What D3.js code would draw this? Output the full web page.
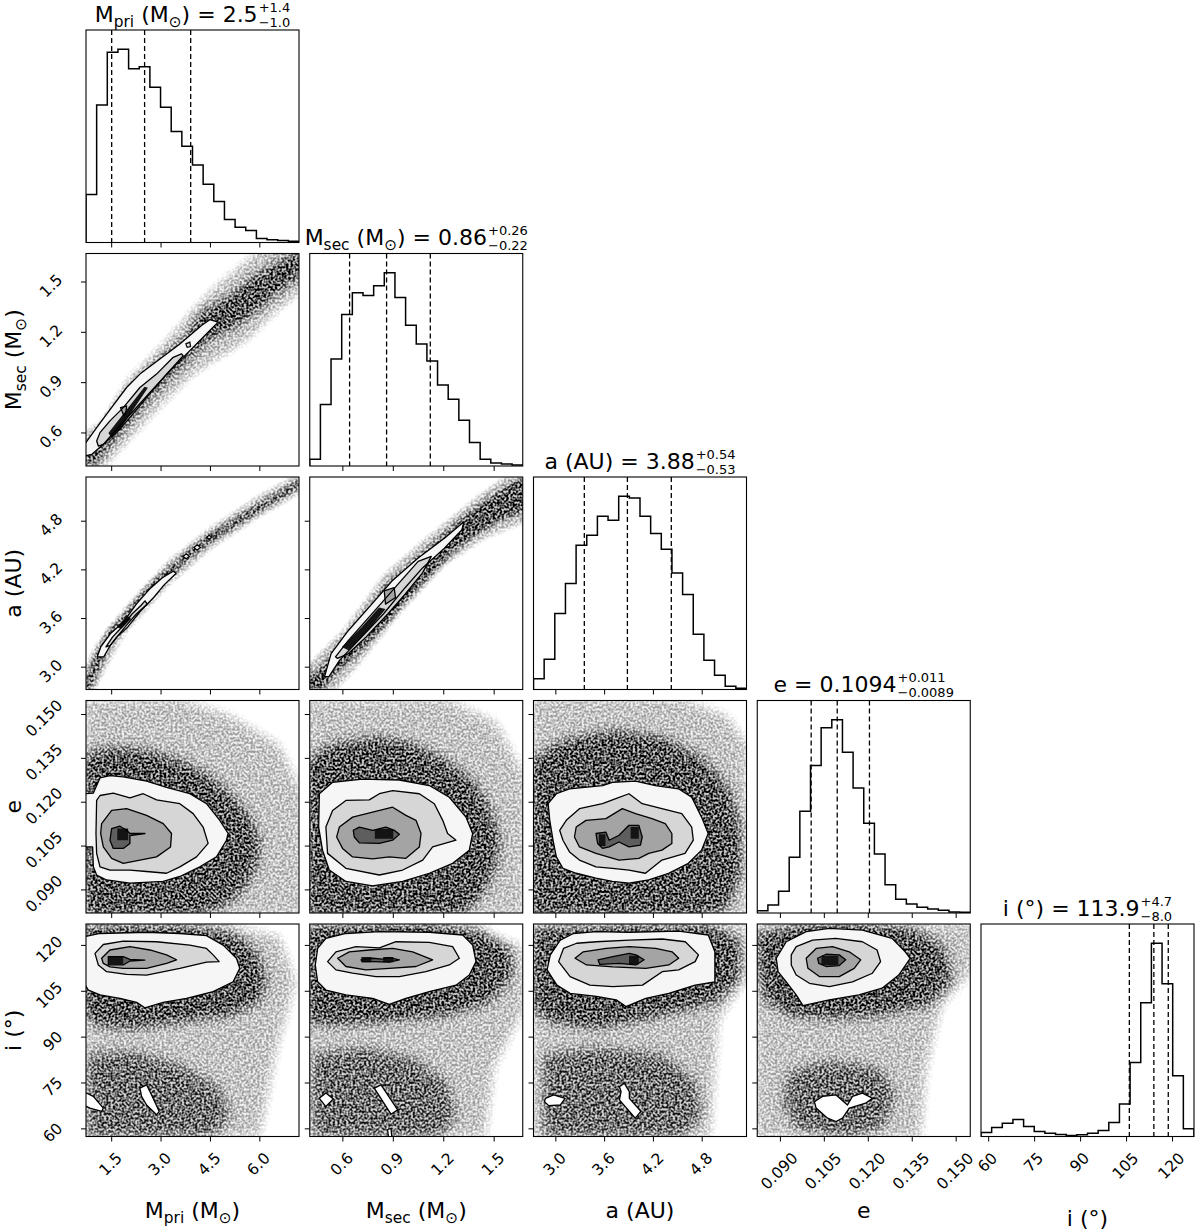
<!DOCTYPE html>
<html><head><meta charset="utf-8">
<script src="https://cdn.jsdelivr.net/npm/d3@7"></script>
<style>
body{margin:0;background:#fff}
svg{display:block}
text{font-family:"DejaVu Sans",sans-serif;fill:#000;white-space:pre}
</style>
</head><body>
<svg id="chart" width="1200" height="1232"></svg>
<script>
// ---------------- DATA ----------------
const domMpri = [0.72, 7.19];
const domMsec = [0.403, 1.670];
const domA    = [2.725, 5.345];
const domE    = [0.0821, 0.1548];
const domI    = [57.5, 127.0];

const ticksMpri = [1.5, 3.0, 4.5, 6.0];
const ticksMsec = [0.6, 0.9, 1.2, 1.5];
const ticksA    = [3.0, 3.6, 4.2, 4.8];
const ticksE    = [0.090, 0.105, 0.120, 0.135, 0.150];
const ticksI    = [60, 75, 90, 105, 120];

const tickLabelsMpri = ["1.5","3.0","4.5","6.0"];
const tickLabelsMsec = ["0.6","0.9","1.2","1.5"];
const tickLabelsA    = ["3.0","3.6","4.2","4.8"];
const tickLabelsE    = ["0.090","0.105","0.120","0.135","0.150"];
const tickLabelsI    = ["60","75","90","105","120"];

// 20-bin histogram counts (relative)
const histMpri = [144,413,571,580,522,528,466,406,333,289,233,175,123,69,46,36,12,8,6,4];
const histMsec = [20,184,320,453,518,510,539,578,504,421,365,314,242,200,137,70,20,9,6,3];
const histA    = [32,91,228,318,433,463,520,508,580,575,520,468,421,350,285,166,88,43,10,4];
const histE    = [7,24,65,167,305,442,555,579,482,375,269,177,85,41,27,17,12,8,3,2];
const histI    = [12,27,40,51,30,15,10,6,3,5,10,18,42,98,223,403,582,460,183,23];

// summary values (median, +, -)
const medVals   = [2.5, 0.86, 3.88, 0.1094, 113.9];
const plusVals  = [1.4, 0.26, 0.54, 0.011, 4.7];
const minusVals = [1.0, 0.22, 0.53, 0.0089, 8.0];
const medLabels   = ["2.5","0.86","3.88","0.1094","113.9"];
const plusLabels  = ["+1.4","+0.26","+0.54","+0.011","+4.7"];
const minusLabels = ["\u22121.0","\u22120.22","\u22120.53","\u22120.0089","\u22128.0"];

// axis labels (text, kind)
const labelMpri = [["M",""],["pri","sub"],[" (M",""],["\u2299","sub"],[")",""]];
const labelMsec = [["M",""],["sec","sub"],[" (M",""],["\u2299","sub"],[")",""]];
const labelA    = [["a (AU)",""]];
const labelE    = [["e",""]];
const labelI    = [["i (\u00b0)",""]];

// 2D panels: scatter envelopes and contour polygons (data units)
const P10 = {
  halo: [[0.64,0.60],[1.3,0.66],[2.0,0.92],[3.0,1.12],[3.8,1.30],[4.5,1.45],[5.4,1.60],[6.2,1.72],[7.3,1.72],[7.3,1.45],[6.5,1.32],[5.6,1.15],[4.8,1.05],[4.0,0.95],[3.0,0.76],[2.0,0.55],[1.3,0.40],[0.64,0.40]],
  dense: [[0.64,0.452],[0.942,0.572],[1.448,0.712],[2.054,0.871],[2.560,0.971],[3.167,1.071],[3.773,1.171],[4.178,1.311],[4.683,1.371],[5.189,1.430],[5.795,1.530],[6.503,1.610],[7.3,1.70],[7.3,1.550],[6.503,1.430],[5.896,1.331],[5.391,1.251],[4.986,1.211],[4.582,1.171],[4.077,1.091],[3.369,0.951],[2.661,0.811],[2.054,0.672],[1.549,0.552],[1.145,0.452],[0.942,0.40],[0.64,0.40]],
  L: [
    [[0.64,0.522],[1.044,0.632],[1.347,0.712],[1.953,0.871],[2.358,0.951],[2.964,1.041],[3.571,1.131],[4.228,1.241],[4.481,1.275],[4.734,1.261],[4.481,1.211],[3.874,1.091],[3.268,0.971],[2.661,0.841],[2.156,0.731],[1.650,0.622],[1.246,0.532],[0.892,0.472],[0.64,0.462]],
    [[1.044,0.552],[1.145,0.602],[1.448,0.672],[1.852,0.751],[2.358,0.871],[2.863,0.951],[3.369,1.051],[3.622,1.071],[3.672,1.061],[3.167,0.951],[2.560,0.811],[2.054,0.692],[1.650,0.602],[1.246,0.532],[1.094,0.522]],
    [[1.771,0.751],[1.953,0.761],[1.933,0.721],[1.873,0.701]]
  ],
  core: [[[1.40,0.60],[1.62,0.655],[2.50,0.875],[2.60,0.87],[1.75,0.62],[1.50,0.57]]],
  rings: [[[3.753,1.131],[3.874,1.141],[3.894,1.115],[3.793,1.111]]]
};
const P20 = {
  halo: [[0.66,2.95],[1.0,3.25],[1.9,3.72],[3.2,4.30],[4.5,4.72],[6.0,5.12],[7.25,5.40],[7.25,5.15],[6.0,4.86],[4.5,4.46],[3.2,4.0],[1.9,3.42],[1.2,2.9],[0.95,2.70],[0.66,2.70]],
  dense: [[0.667,2.803],[0.997,3.128],[1.392,3.453],[1.853,3.635],[2.512,3.960],[3.171,4.204],[3.962,4.476],[4.489,4.638],[5.280,4.841],[6.071,5.036],[7.25,5.32],[7.25,5.239],[6.071,4.947],[5.280,4.744],[4.489,4.541],[3.962,4.378],[3.171,4.094],[2.512,3.838],[1.853,3.514],[1.458,3.331],[1.129,3.006],[0.865,2.73],[0.667,2.73]],
  L: [
    [[1.063,3.128],[1.168,3.250],[1.458,3.412],[1.853,3.554],[2.249,3.777],[2.644,3.960],[3.040,4.102],[3.369,4.183],[3.461,4.159],[3.106,4.021],[2.776,3.859],[2.381,3.696],[1.985,3.493],[1.656,3.371],[1.458,3.270],[1.260,3.128]],
    [[1.326,3.250],[1.524,3.371],[1.853,3.514],[2.117,3.656],[2.381,3.757],[2.512,3.818],[2.578,3.777],[2.249,3.656],[1.985,3.534],[1.656,3.371],[1.458,3.270]]
  ],
  core: [[[1.656,3.493],[1.985,3.635],[2.091,3.595],[1.787,3.473]]],
  rings: [
    [[3.672,4.366],[3.764,4.398],[3.856,4.366],[3.764,4.337]],
    [[4.0,4.476],[4.094,4.508],[4.199,4.476],[4.094,4.443]],
    [[4.384,4.602],[4.463,4.626],[4.542,4.602],[4.463,4.577]]
  ]
};
const P21 = {
  halo: [[0.38,3.0],[0.6,3.45],[0.85,4.15],[1.1,4.6],[1.4,5.1],[1.6,5.4],[1.70,5.4],[1.70,4.8],[1.45,4.6],[1.2,4.25],[0.95,3.7],[0.7,3.05],[0.55,2.70],[0.38,2.70]],
  dense: [[0.38,2.844],[0.478,3.006],[0.581,3.290],[0.711,3.574],[0.841,3.980],[0.996,4.265],[1.152,4.549],[1.307,4.833],[1.463,5.077],[1.618,5.28],[1.70,5.33],[1.70,4.955],[1.515,4.792],[1.359,4.589],[1.255,4.427],[1.126,4.143],[0.996,3.859],[0.841,3.493],[0.685,3.168],[0.556,2.925],[0.478,2.73],[0.38,2.73]],
  L: [
    [[0.491,2.884],[0.530,3.168],[0.633,3.453],[0.789,3.818],[0.892,4.062],[1.048,4.346],[1.204,4.589],[1.320,4.792],[1.307,4.691],[1.204,4.468],[1.074,4.224],[0.970,3.980],[0.841,3.656],[0.711,3.371],[0.581,3.087],[0.517,2.884]],
    [[0.556,3.128],[0.633,3.331],[0.737,3.574],[0.841,3.818],[0.944,4.062],[1.048,4.305],[1.126,4.366],[1.074,4.163],[0.970,3.899],[0.867,3.656],[0.737,3.371],[0.633,3.168],[0.568,3.108]],
    [[0.846,3.940],[0.905,3.980],[0.913,3.859],[0.854,3.778]]
  ],
  core: [[[0.594,3.250],[0.711,3.493],[0.815,3.737],[0.854,3.717],[0.750,3.453],[0.633,3.209]]]
};
const P30 = {
  halo: [[0.64,0.1555],[3.571,0.1555],[5.087,0.1500],[6.60,0.1398],[7.31,0.1229],[7.31,0.081],[0.64,0.081]],
  dense: [[0.64,0.1364],[1.549,0.1387],[2.560,0.1376],[3.571,0.1342],[4.380,0.1296],[5.087,0.1229],[5.694,0.1149],[5.997,0.1070],[5.896,0.0979],[5.492,0.0900],[4.885,0.0844],[4.077,0.081],[0.64,0.081]],
  L: [
    [[0.64,0.1229],[0.94,0.1231],[1.145,0.1283],[1.448,0.1291],[1.852,0.1287],[2.560,0.1272],[3.167,0.1251],[3.874,0.1229],[4.380,0.1195],[4.784,0.1138],[5.037,0.1093],[4.986,0.1070],[4.683,0.1013],[4.178,0.0979],[3.571,0.0946],[3.066,0.0929],[2.054,0.0923],[1.347,0.0934],[1.043,0.0951],[0.942,0.0979],[0.922,0.1047],[0.64,0.1047]],
    [[1.043,0.1206],[1.145,0.1223],[1.549,0.1231],[2.054,0.1215],[2.459,0.1229],[2.863,0.1208],[3.571,0.1195],[3.975,0.1161],[4.278,0.1115],[4.430,0.1059],[4.077,0.1013],[3.571,0.0979],[3.167,0.0957],[2.560,0.0963],[2.054,0.0968],[1.448,0.0968],[1.145,0.0979],[1.043,0.1025],[1.023,0.1093]],
    [[1.195,0.1127],[1.498,0.1172],[1.953,0.1178],[2.560,0.1155],[3.066,0.1127],[3.318,0.1093],[3.288,0.1047],[2.863,0.1013],[2.358,0.1002],[1.852,0.0991],[1.498,0.1008],[1.246,0.1047],[1.165,0.1093]],
    [[1.498,0.1110],[1.751,0.1118],[1.953,0.1104],[2.054,0.1093],[2.509,0.1093],[2.054,0.1086],[2.054,0.1059],[1.852,0.1042],[1.549,0.1042],[1.448,0.1070]]
  ],
  core: [[[1.67,0.1070],[2.0,0.1070],[2.0,0.1110],[1.67,0.1110]]]
};
const P31 = {
  halo: [[0.38,0.1555],[1.213,0.1555],[1.511,0.1478],[1.69,0.1285],[1.69,0.081],[0.38,0.081]],
  dense: [[0.38,0.1342],[0.539,0.1398],[0.817,0.1421],[1.015,0.1398],[1.213,0.1342],[1.372,0.1274],[1.471,0.1183],[1.531,0.1081],[1.511,0.0979],[1.432,0.0889],[1.313,0.081],[0.38,0.081]],
  L: [
    [[0.46,0.1229],[0.539,0.1268],[0.717,0.1279],[0.936,0.1276],[1.114,0.1257],[1.233,0.1217],[1.332,0.1149],[1.372,0.1093],[1.352,0.1036],[1.253,0.0991],[1.114,0.0957],[0.956,0.0929],[0.777,0.0914],[0.618,0.0929],[0.519,0.0968],[0.479,0.1036],[0.456,0.1115]],
    [[0.539,0.1172],[0.618,0.1206],[0.757,0.1208],[0.817,0.1229],[0.896,0.1240],[1.055,0.1229],[1.144,0.1195],[1.194,0.1138],[1.223,0.1093],[1.273,0.1070],[1.134,0.1047],[1.075,0.1002],[0.956,0.0968],[0.817,0.0951],[0.618,0.0974],[0.509,0.1025],[0.499,0.1115]],
    [[0.579,0.1115],[0.658,0.1149],[0.777,0.1166],[0.896,0.1183],[0.975,0.1155],[1.035,0.1138],[1.065,0.1093],[1.055,0.1047],[0.975,0.1008],[0.876,0.1013],[0.777,0.1006],[0.658,0.1013],[0.598,0.1042],[0.563,0.1081]],
    [[0.662,0.1104],[0.698,0.1115],[0.777,0.1104],[0.856,0.1115],[0.906,0.1104],[0.936,0.1090],[0.896,0.1070],[0.817,0.1059],[0.698,0.1061],[0.668,0.1081]]
  ],
  core: [[[0.79,0.1075],[0.90,0.1075],[0.90,0.1108],[0.79,0.1108]]]
};
const P32 = {
  halo: [[2.68,0.156],[4.5,0.156],[5.1,0.150],[5.36,0.140],[5.36,0.081],[2.68,0.081]],
  dense: [[2.68,0.1342],[3.087,0.1410],[3.696,0.1444],[4.305,0.1421],[4.792,0.1353],[5.117,0.1251],[5.28,0.1115],[5.28,0.0957],[5.117,0.0844],[4.914,0.081],[2.68,0.081]],
  L: [
    [[2.905,0.1195],[3.006,0.1229],[3.168,0.1246],[3.574,0.1257],[3.696,0.1268],[3.980,0.1272],[4.224,0.1257],[4.508,0.1246],[4.671,0.1217],[4.792,0.1149],[4.874,0.1093],[4.792,0.1036],[4.630,0.0991],[4.386,0.0957],[4.143,0.0934],[3.899,0.0923],[3.696,0.0929],[3.493,0.0940],[3.250,0.0957],[3.087,0.0974],[3.006,0.1013],[2.965,0.1070],[2.925,0.1138]],
    [[3.047,0.1104],[3.128,0.1138],[3.290,0.1178],[3.574,0.1195],[3.737,0.1212],[3.899,0.1229],[4.062,0.1195],[4.305,0.1178],[4.549,0.1161],[4.671,0.1115],[4.691,0.1070],[4.589,0.1025],[4.305,0.1002],[4.102,0.0957],[3.899,0.0968],[3.696,0.0974],[3.493,0.0979],[3.290,0.1002],[3.168,0.1030],[3.087,0.1070]],
    [[3.250,0.1115],[3.371,0.1138],[3.615,0.1144],[3.818,0.1178],[3.980,0.1161],[4.183,0.1144],[4.346,0.1127],[4.427,0.1093],[4.427,0.1059],[4.305,0.1036],[4.143,0.1025],[4.021,0.1008],[3.777,0.1002],[3.493,0.1025],[3.290,0.1047],[3.229,0.1081]],
    [[3.493,0.1093],[3.615,0.1098],[3.656,0.1070],[3.777,0.1087],[3.899,0.1121],[4.021,0.1121],[4.062,0.1081],[4.041,0.1053],[3.899,0.1047],[3.777,0.1064],[3.656,0.1047],[3.574,0.1042],[3.514,0.1059]]
  ],
  core: [[[3.53,0.1050],[3.61,0.1050],[3.61,0.1090],[3.53,0.1090]],[[3.92,0.1075],[4.02,0.1075],[4.02,0.1115],[3.92,0.1115]]]
};
const P40 = {
  halo: [[0.64,127.5],[4.582,127.5],[6.60,123.2],[7.11,108.1],[6.5,85],[6.0,57],[0.64,57]],
  dense: [[0.64,126.6],[3.571,126.6],[5.087,124.5],[5.795,119.0],[6.199,110.3],[5.997,101.6],[5.087,97.2],[3.571,95.1],[2.054,92.9],[1.043,94.0],[0.64,97.2]],
  lower: [[0.74,84.2],[2.054,85.3],[3.571,80.9],[4.784,73.3],[5.087,64.6],[4.582,57.0],[0.74,57.0]],
  L: [
    [[0.64,122.8],[1.145,123.9],[2.560,124.3],[3.571,123.9],[4.380,123.2],[4.885,120.1],[5.290,115.8],[5.391,112.5],[5.189,108.1],[4.582,104.9],[3.773,102.7],[3.066,101.4],[2.509,99.6],[2.257,101.4],[1.751,102.7],[1.145,103.8],[0.79,105.4],[0.64,108.1]],
    [[0.993,117.4],[1.246,120.3],[1.852,121.4],[2.863,121.2],[3.874,120.1],[4.380,119.0],[4.582,116.9],[4.764,114.7],[4.380,114.5],[3.571,112.5],[2.560,110.3],[1.953,110.5],[1.347,111.4],[1.094,113.6]],
    [[1.195,115.8],[1.448,118.5],[2.054,119.6],[2.661,118.5],[3.167,116.9],[3.470,115.3],[3.167,114.1],[2.560,112.5],[1.852,112.5],[1.448,113.0],[1.246,114.1]],
    [[1.397,116.3],[1.852,116.3],[2.054,115.4],[2.509,115.2],[2.054,114.9],[1.852,113.6],[1.397,113.6]]
  ],
  core: [[[1.40,113.8],[1.85,113.8],[1.85,116.2],[1.40,116.2]]],
  holes: [
    [[0.64,72.2],[0.94,70.6],[1.246,66.8],[1.195,65.7],[0.84,66.8],[0.64,67.8]],
    [[2.358,73.3],[2.560,74.4],[2.712,71.1],[2.944,65.7],[2.863,64.6],[2.560,67.8],[2.408,70.6]]
  ]
};
const P41 = {
  halo: [[0.38,127.5],[1.2,127.5],[1.67,120],[1.69,100],[1.5,80],[1.45,57],[0.38,57]],
  dense: [[0.38,126.6],[1.015,127.1],[1.412,125.6],[1.590,119.0],[1.610,110.3],[1.471,101.6],[1.213,97.2],[0.817,95.1],[0.519,94.0],[0.38,95.1]],
  lower: [[0.42,84.2],[0.717,86.4],[1.015,83.1],[1.213,75.5],[1.273,64.6],[1.174,57.0],[0.42,57.0]],
  L: [
    [[0.450,119.0],[0.499,122.3],[0.618,123.9],[0.817,124.5],[1.114,124.3],[1.313,123.4],[1.372,120.1],[1.392,114.7],[1.352,110.3],[1.273,107.0],[1.114,104.9],[0.975,102.7],[0.876,100.7],[0.777,102.7],[0.618,103.8],[0.499,105.4],[0.450,108.1],[0.436,113.6]],
    [[0.509,114.7],[0.559,117.9],[0.678,119.6],[0.817,119.2],[0.916,121.2],[1.114,121.0],[1.253,119.6],[1.293,115.8],[1.233,113.6],[1.094,111.4],[0.936,109.8],[0.797,109.8],[0.658,110.9],[0.559,112.0]],
    [[0.569,115.8],[0.638,117.9],[0.757,118.5],[0.896,119.0],[1.015,117.9],[1.134,115.3],[1.035,113.1],[0.876,112.5],[0.737,112.0],[0.618,113.1]],
    [[0.708,115.3],[0.777,115.8],[0.836,115.5],[0.876,116.0],[0.936,115.3],[0.876,114.5],[0.777,114.7],[0.717,114.7]]
  ],
  core: [[[0.71,114.5],[0.77,114.5],[0.77,116.2],[0.71,116.2]],[[0.84,114.5],[0.90,114.5],[0.90,116.2],[0.84,116.2]]],
  holes: [
    [[0.460,70.0],[0.499,71.7],[0.543,69.8],[0.499,67.3]],
    [[0.787,73.3],[0.827,74.4],[0.926,66.2],[0.886,64.8]],
    [[0.866,59.7],[0.886,60.2],[0.892,57.0],[0.872,57.0]]
  ]
};
const P42 = {
  halo: [[2.70,127.5],[5.36,127.5],[5.36,110],[5.0,95],[4.95,75],[4.9,57],[2.70,57]],
  dense: [[2.70,125.6],[3.904,126.6],[4.916,126.6],[5.28,121.2],[5.24,108.1],[4.956,101.6],[4.308,97.2],[3.499,92.9],[2.932,95.1],[2.70,99.4]],
  lower: [[2.851,84.2],[3.499,86.4],[4.308,84.2],[4.713,75.5],[4.794,64.6],[4.551,57.0],[2.851,57.0]],
  L: [
    [[2.892,112.0],[2.932,116.9],[3.054,121.7],[3.216,123.9],[3.499,124.5],[3.904,124.3],[4.511,124.7],[4.875,123.4],[4.956,117.9],[4.956,108.1],[4.713,107.0],[4.389,104.3],[4.106,102.7],[3.863,100.0],[3.742,102.2],[3.499,103.3],[3.175,104.3],[3.013,107.0]],
    [[3.034,114.7],[3.094,119.0],[3.256,120.7],[3.499,121.2],[3.904,121.7],[4.308,122.1],[4.592,121.2],[4.754,116.9],[4.713,114.7],[4.511,112.0],[4.308,111.4],[4.066,107.0],[3.701,106.5],[3.418,107.0],[3.175,109.8]],
    [[3.236,115.8],[3.337,117.9],[3.620,119.0],[3.904,119.6],[4.227,119.0],[4.430,117.9],[4.511,115.8],[4.389,113.6],[4.106,112.5],[3.701,113.0],[3.378,113.6]],
    [[3.519,115.3],[3.701,116.3],[3.904,117.4],[3.985,116.9],[4.086,115.3],[3.985,113.6],[3.782,114.1],[3.539,113.8]]
  ],
  core: [[[3.90,113.8],[4.02,113.8],[4.02,116.6],[3.90,116.6]]],
  holes: [
    [[2.872,70.0],[2.972,71.1],[3.114,70.0],[3.054,67.8],[2.912,67.6],[2.860,68.9]],
    [[3.782,73.8],[3.843,74.9],[3.904,72.2],[3.904,70.0],[4.045,65.7],[3.977,63.5],[3.782,69.5],[3.802,72.2]]
  ]
};
const P43 = {
  halo: [[0.081,127.5],[0.156,127.5],[0.156,112],[0.145,100],[0.140,80],[0.138,57],[0.081,57]],
  dense: [[0.081,123.4],[0.0954,126.6],[0.1180,127.2],[0.1349,125.6],[0.1462,119.0],[0.1484,108.1],[0.1405,100.5],[0.1236,97.2],[0.1067,96.2],[0.0932,97.2],[0.0841,102.7]],
  lower: [[0.0932,78.7],[0.1067,82.0],[0.1236,79.8],[0.1293,71.1],[0.1247,60.2],[0.1123,57.0],[0.0954,60.2],[0.0909,68.9]],
  L: [
    [[0.0886,115.8],[0.0920,121.2],[0.0988,124.5],[0.1067,125.6],[0.1180,125.0],[0.1281,122.3],[0.1326,117.9],[0.1343,115.8],[0.1304,110.3],[0.1247,106.0],[0.1168,103.8],[0.1067,102.2],[0.0977,100.3],[0.0954,103.8],[0.0920,108.1],[0.0892,111.4]],
    [[0.0937,116.9],[0.0954,119.6],[0.1010,121.7],[0.1089,122.3],[0.1180,121.2],[0.1230,118.5],[0.1242,114.7],[0.1214,110.9],[0.1146,108.1],[0.1067,106.5],[0.0999,107.6],[0.0954,110.3],[0.0937,113.6]],
    [[0.0988,115.8],[0.1022,119.0],[0.1078,119.6],[0.1135,117.9],[0.1174,115.3],[0.1152,112.5],[0.1101,109.8],[0.1033,109.8],[0.0994,112.5]],
    [[0.1027,115.8],[0.1056,117.1],[0.1101,116.9],[0.1123,115.3],[0.1101,113.4],[0.1056,113.1],[0.1031,114.1]]
  ],
  core: [[[0.1040,113.6],[0.1098,113.6],[0.1098,116.6],[0.1040,116.6]]],
  holes: [
    [[0.1016,68.9],[0.1044,70.6],[0.1090,71.1],[0.1129,67.8],[0.1146,70.6],[0.1180,71.7],[0.1214,70.0],[0.1191,68.4],[0.1135,66.8],[0.1112,63.5],[0.1090,62.4],[0.1061,63.5],[0.1022,66.8]]
  ]
};

// ---------------- ASSEMBLY ----------------
const domains = [domMpri, domMsec, domA, domE, domI];
const ticks = [ticksMpri, ticksMsec, ticksA, ticksE, ticksI];
const tickLabels = [tickLabelsMpri, tickLabelsMsec, tickLabelsA, tickLabelsE, tickLabelsI];
const hists = [histMpri, histMsec, histA, histE, histI];
const axisLabels = [labelMpri, labelMsec, labelA, labelE, labelI];
const panels2D = [
  {r:1,c:0,d:P10,f:"speckM"},{r:2,c:0,d:P20,f:"speckS"},{r:2,c:1,d:P21,f:"speckS"},
  {r:3,c:0,d:P30,f:"speckL"},{r:3,c:1,d:P31,f:"speckL"},{r:3,c:2,d:P32,f:"speckL"},
  {r:4,c:0,d:P40,f:"speckL"},{r:4,c:1,d:P41,f:"speckL"},{r:4,c:2,d:P42,f:"speckL"},{r:4,c:3,d:P43,f:"speckL"}
];

const svg = d3.select("#chart");
const N = 5;
const PX0 = 86, PDX = 223.75, PY0 = 30, PDY = 223.5, PW = 213, PH = 212.5;
const pLeft = j => PX0 + PDX*j;
const pTop = i => PY0 + PDY*i;
const xs = domains.map((d,j) => d3.scaleLinear().domain(d).range([pLeft(j), pLeft(j)+PW]));
const ys = domains.map((d,i) => d3.scaleLinear().domain(d).range([pTop(i)+PH, pTop(i)]));

const defs = svg.append("defs");
// grain filters for the scatter clouds
function makeSpeck(id, blur) {
  const f = defs.append("filter").attr("id",id).attr("x","-5%").attr("y","-5%")
    .attr("width","110%").attr("height","110%").attr("color-interpolation-filters","sRGB");
  f.append("feGaussianBlur").attr("in","SourceGraphic").attr("stdDeviation",blur).attr("result","b");
  f.append("feTurbulence").attr("type","fractalNoise").attr("baseFrequency",0.45)
    .attr("numOctaves",1).attr("seed",5).attr("result","n");
  f.append("feColorMatrix").attr("in","n").attr("type","matrix")
    .attr("values","0 0 0 0 0  0 0 0 0 0  0 0 0 0 0  3 0 0 0 -1").attr("result","m");
  f.append("feComposite").attr("in","b").attr("in2","m").attr("operator","arithmetic")
    .attr("k1",1.1).attr("k2",0.3).attr("k3",0).attr("k4",-0.03);
}
makeSpeck("speckL", 6);
makeSpeck("speckM", 4);
makeSpeck("speckS", 2.5);

for (let i=0;i<N;i++) for (let j=0;j<=i;j++) {
  defs.append("clipPath").attr("id",`clip${i}${j}`).append("rect")
    .attr("x",pLeft(j)).attr("y",pTop(i)).attr("width",PW).attr("height",PH);
}

// ---- 2D panels ----
panels2D.forEach(({r,c,d,f}) => {
  const x = xs[c], y = ys[r];
  const lg = d3.line().x(p=>x(p[0])).y(p=>y(p[1])).curve(d3.curveLinearClosed);
  const g = svg.append("g").attr("clip-path",`url(#clip${r}${c})`);
  const cg = g.append("g").attr("filter",`url(#${f})`);
  if (d.halo) cg.append("path").attr("d",lg(d.halo)).attr("fill","#000").attr("fill-opacity",0.3);
  if (d.dense) cg.append("path").attr("d",lg(d.dense)).attr("fill","#000").attr("fill-opacity",0.72);
  if (d.lower) cg.append("path").attr("d",lg(d.lower)).attr("fill","#000").attr("fill-opacity",0.55);
  const fills = ["#f6f6f6","#d6d6d6","#a4a4a4","#5e5e5e"];
  d.L.forEach((p,k) => g.append("path").attr("d",lg(p)).attr("fill",fills[k]));
  (d.core||[]).forEach(p => g.append("path").attr("d",lg(p)).attr("fill","#141414"));
  d.L.forEach(p => g.append("path").attr("d",lg(p)).attr("fill","none")
    .attr("stroke","#000").attr("stroke-width",1.3).attr("stroke-linejoin","round"));
  (d.rings||[]).forEach(p => g.append("path").attr("d",lg(p)).attr("fill","#e8e8e8")
    .attr("stroke","#000").attr("stroke-width",1.2));
  (d.holes||[]).forEach(p => g.append("path").attr("d",lg(p)).attr("fill","#fff")
    .attr("stroke","#000").attr("stroke-width",1.3).attr("stroke-linejoin","round"));
});

// ---- 1D histograms ----
for (let k=0;k<N;k++) {
  const counts = hists[k];
  const [d0,d1] = domains[k];
  const edges = d3.range(counts.length+1).map(b => d0 + b*(d1-d0)/counts.length);
  const x = xs[k];
  const yh = d3.scaleLinear().domain([0, 1.1*d3.max(counts)]).range([pTop(k)+PH, pTop(k)]);
  const pts = [[edges[0],0]];
  counts.forEach((v,b) => { pts.push([edges[b],v]); pts.push([edges[b+1],v]); });
  pts.push([edges[counts.length],0]);
  const g = svg.append("g").attr("clip-path",`url(#clip${k}${k})`);
  g.append("path").attr("d", d3.line().x(p=>x(p[0])).y(p=>yh(p[1]))(pts))
    .attr("fill","none").attr("stroke","#000").attr("stroke-width",1.5);
  const q = [medVals[k]-minusVals[k], medVals[k], medVals[k]+plusVals[k]];
  q.forEach(v => g.append("line").attr("x1",x(v)).attr("x2",x(v))
    .attr("y1",pTop(k)).attr("y2",pTop(k)+PH)
    .attr("stroke","#000").attr("stroke-width",1.3).attr("stroke-dasharray","5,3"));
}

// ---- frames & ticks ----
for (let i=0;i<N;i++) for (let j=0;j<=i;j++) {
  svg.append("rect").attr("x",pLeft(j)).attr("y",pTop(i)).attr("width",PW).attr("height",PH)
    .attr("fill","none").attr("stroke","#000").attr("stroke-width",1.1);
  const bottom = pTop(i)+PH;
  ticks[j].forEach(t => svg.append("line").attr("x1",xs[j](t)).attr("x2",xs[j](t))
    .attr("y1",bottom).attr("y2",bottom+5).attr("stroke","#000").attr("stroke-width",1));
  if (i !== j) {
    ticks[i].forEach(t => svg.append("line").attr("x1",pLeft(j)-5).attr("x2",pLeft(j))
      .attr("y1",ys[i](t)).attr("y2",ys[i](t)).attr("stroke","#000").attr("stroke-width",1));
  }
}

const TFS = 15.5;
function rotLabel(txt) {
  const t = svg.append("text").attr("font-size",TFS).attr("text-anchor","middle")
    .attr("dominant-baseline","central").text(txt);
  const L = t.node().getComputedTextLength();
  const s = (L + TFS*0.75)/(2*Math.SQRT2);
  return {t, s};
}
// x tick labels (bottom row)
for (let j=0;j<N;j++) {
  const bottom = pTop(N-1)+PH;
  ticks[j].forEach((v,k) => {
    const {t,s} = rotLabel(tickLabels[j][k]);
    const cx = xs[j](v) - 1, cy = bottom + 15 + s;
    t.attr("x",cx).attr("y",cy).attr("transform",`rotate(-45 ${cx} ${cy})`);
  });
}
// y tick labels (left column, rows 1..4)
for (let i=1;i<N;i++) {
  ticks[i].forEach((v,k) => {
    const {t,s} = rotLabel(tickLabels[i][k]);
    const cx = pLeft(0) - 22 - s, cy = ys[i](v) + 4;
    t.attr("x",cx).attr("y",cy).attr("transform",`rotate(-45 ${cx} ${cy})`);
  });
}

function richText(parent, parts, fs, anchor) {
  const t = parent.append("text").attr("x",0).attr("y",0).attr("font-size",fs)
    .attr("text-anchor",anchor);
  let shifted = false;
  const sh = fs*0.24;
  parts.forEach(([s,kind]) => {
    const ts = t.append("tspan").text(s);
    if (kind === "sub") { ts.attr("font-size",fs*0.7); if(!shifted){ts.attr("dy",sh); shifted=true;} }
    else if (shifted) { ts.attr("dy",-sh); shifted=false; }
  });
  return t;
}

const LFS = 22;
// axis labels
for (let j=0;j<N;j++) {
  const cx = pLeft(j)+PW/2;
  const by = (j === N-1) ? 1226 : 1218;
  const g = svg.append("g").attr("transform",`translate(${cx},${by})`);
  richText(g, axisLabels[j], LFS, "middle");
}
for (let i=1;i<N;i++) {
  const cy = pTop(i)+PH/2;
  const g = svg.append("g").attr("transform",`translate(21,${cy}) rotate(-90)`);
  richText(g, axisLabels[i], LFS, "middle");
}

// titles
for (let k=0;k<N;k++) {
  const g = svg.append("g");
  const main = richText(g, axisLabels[k].concat([[" = "+medLabels[k],""]]), LFS, "start");
  const w = main.node().getComputedTextLength();
  const sup = g.append("text").attr("x",w+1).attr("y",-10).attr("font-size",13).text(plusLabels[k]);
  const sub = g.append("text").attr("x",w+1).attr("y",5).attr("font-size",13).text(minusLabels[k]);
  const total = w + 1 + Math.max(sup.node().getComputedTextLength(), sub.node().getComputedTextLength());
  const cx = pLeft(k)+PW/2;
  g.attr("transform",`translate(${cx-total/2},${pTop(k)-8.5})`);
}
</script>
</body></html>
